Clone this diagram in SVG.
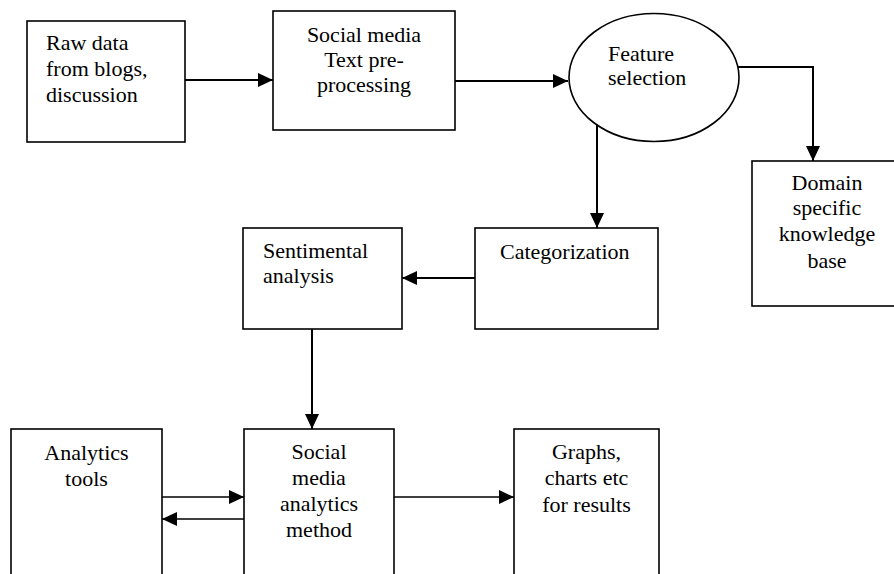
<svg xmlns="http://www.w3.org/2000/svg" width="894" height="574" viewBox="0 0 894 574">
<defs>
<style>
.box{fill:#fff;stroke:#000;stroke-width:1.6}
.t{font-family:"Liberation Serif","Times New Roman",serif;font-size:22px;fill:#000}
.c{text-anchor:middle}
.line{fill:none;stroke:#000;stroke-width:2}
.thin{fill:none;stroke:#000;stroke-width:1.4}
</style>
<marker id="ah" markerUnits="userSpaceOnUse" markerWidth="15" markerHeight="14" refX="15" refY="7" orient="auto">
<path d="M0,0 L15,7 L0,14 z" fill="#000"/>
</marker>
</defs>
<rect width="894" height="574" fill="#fff"/>
<g id="connectors">
<line class="line" x1="185" y1="80" x2="273" y2="80" marker-end="url(#ah)"/>
<line class="line" x1="455" y1="81" x2="568" y2="81" marker-end="url(#ah)"/>
<polyline class="line" points="738,67 813,67 813,161" marker-end="url(#ah)"/>
<line class="line" x1="597" y1="118" x2="597" y2="228" marker-end="url(#ah)"/>
<line class="line" x1="475" y1="278" x2="402" y2="278" marker-end="url(#ah)"/>
<line class="line" x1="312" y1="329" x2="312" y2="429" marker-end="url(#ah)"/>
<line class="thin" x1="162" y1="497" x2="244" y2="497" marker-end="url(#ah)"/>
<line class="thin" x1="244" y1="519" x2="162" y2="519" marker-end="url(#ah)"/>
<line class="thin" x1="394" y1="497" x2="514" y2="497" marker-end="url(#ah)"/>
</g>
<g id="raw-data">
<rect class="box" x="27" y="21" width="158" height="121"/>
<text class="t" x="46" y="50">Raw data</text>
<text class="t" x="46" y="76">from blogs,</text>
<text class="t" x="46" y="102">discussion</text>
</g>
<g id="preprocessing">
<rect class="box" x="273" y="11" width="182" height="119"/>
<text class="t c" x="364" y="42">Social media</text>
<text class="t c" x="364" y="67">Text pre-</text>
<text class="t c" x="364" y="92">processing</text>
</g>
<g id="feature-selection">
<ellipse class="box" cx="654" cy="77.5" rx="85" ry="64"/>
<text class="t" x="608" y="61">Feature</text>
<text class="t" x="608" y="85">selection</text>
</g>
<g id="domain-kb">
<rect class="box" x="752" y="161" width="152" height="145"/>
<text class="t c" x="827" y="190">Domain</text>
<text class="t c" x="827" y="215">specific</text>
<text class="t c" x="827" y="241">knowledge</text>
<text class="t c" x="827" y="268">base</text>
</g>
<g id="categorization">
<rect class="box" x="475" y="228" width="183" height="101"/>
<text class="t" x="500" y="259">Categorization</text>
</g>
<g id="sentimental">
<rect class="box" x="243" y="228" width="159" height="101"/>
<text class="t" x="263" y="258">Sentimental</text>
<text class="t" x="263" y="283">analysis</text>
</g>
<g id="analytics-tools">
<rect class="box" x="11" y="429" width="151" height="160"/>
<text class="t c" x="86.5" y="460">Analytics</text>
<text class="t c" x="86.5" y="486">tools</text>
</g>
<g id="sma-method">
<rect class="box" x="244" y="429" width="150" height="160"/>
<text class="t c" x="319" y="459">Social</text>
<text class="t c" x="319" y="485">media</text>
<text class="t c" x="319" y="511">analytics</text>
<text class="t c" x="319" y="537">method</text>
</g>
<g id="graphs">
<rect class="box" x="514" y="429" width="145" height="160"/>
<text class="t c" x="586.5" y="459">Graphs,</text>
<text class="t c" x="586.5" y="485">charts etc</text>
<text class="t c" x="586.5" y="512">for results</text>
</g>
</svg>
